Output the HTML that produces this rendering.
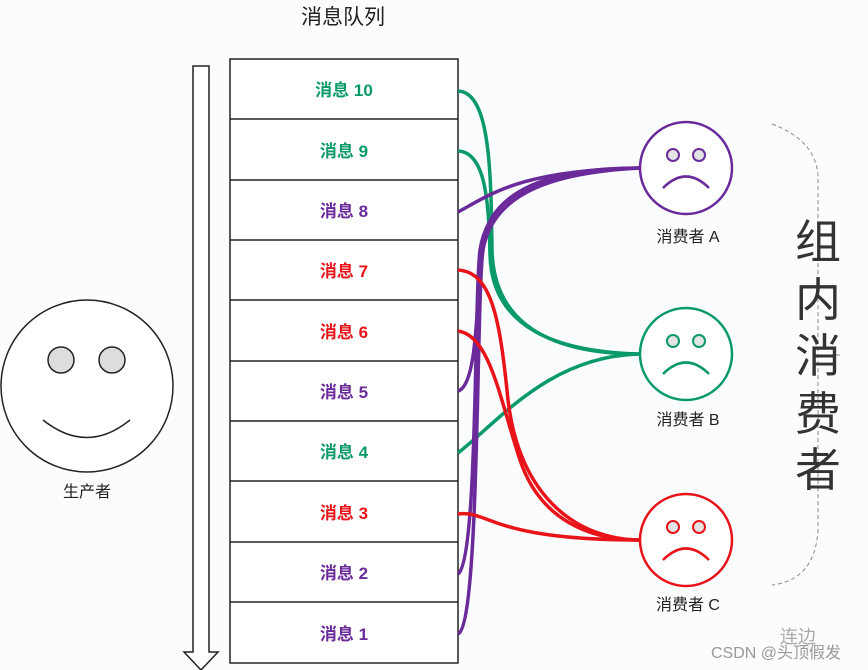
<!DOCTYPE html>
<html><head><meta charset="utf-8"><style>
html,body{margin:0;padding:0;background:#fff;}
svg{display:block;}
text{font-family:"Liberation Sans","Noto Sans CJK SC",sans-serif;}
</style></head><body>
<svg width="868" height="670" viewBox="0 0 868 670" xmlns="http://www.w3.org/2000/svg">
<rect width="868" height="670" fill="#fbfcfe"/>
<text x="343" y="24" font-size="21" text-anchor="middle" fill="#222">消息队列</text>
<path d="M193,66 H209 V652 H218 L201,670 L184,652 H193 Z" fill="#fff" stroke="#222" stroke-width="1.5"/>
<g stroke="#222" stroke-width="1.5" fill="#fff">
<rect x="230" y="59" width="228" height="604"/>
<line x1="230" y1="119" x2="458" y2="119"/>
<line x1="230" y1="180" x2="458" y2="180"/>
<line x1="230" y1="240" x2="458" y2="240"/>
<line x1="230" y1="300" x2="458" y2="300"/>
<line x1="230" y1="361" x2="458" y2="361"/>
<line x1="230" y1="421" x2="458" y2="421"/>
<line x1="230" y1="481" x2="458" y2="481"/>
<line x1="230" y1="542" x2="458" y2="542"/>
<line x1="230" y1="602" x2="458" y2="602"/>
</g>
<g font-size="17" font-weight="bold" text-anchor="middle">
<text x="344" y="96" fill="#0a9a6a">消息 10</text>
<text x="344" y="157" fill="#0a9a6a">消息 9</text>
<text x="344" y="217" fill="#6a2a9a">消息 8</text>
<text x="344" y="277" fill="#e8141a">消息 7</text>
<text x="344" y="338" fill="#e8141a">消息 6</text>
<text x="344" y="398" fill="#6a2a9a">消息 5</text>
<text x="344" y="458" fill="#0a9a6a">消息 4</text>
<text x="344" y="519" fill="#e8141a">消息 3</text>
<text x="344" y="579" fill="#6a2a9a">消息 2</text>
<text x="344" y="640" fill="#6a2a9a">消息 1</text>
</g>
<g fill="none" stroke-width="3.5">
<path d="M458,91 C490,92 491,170 492,250 C494,330 560,354 640,354" stroke="#0a9a6a"/>
<path d="M458,151 C485,152 489,200 490,255 C492,330 560,352 640,354" stroke="#0a9a6a"/>
<path d="M458,453 C500,420 550,356 640,354" stroke="#0a9a6a"/>
<path d="M458,212 C490,195 520,170 640,168" stroke="#6a2a9a"/>
<path d="M458,391 C480,385 476,280 483,240 C495,185 560,168 640,168" stroke="#6a2a9a"/>
<path d="M458,574 C478,560 474,300 480,250 C490,185 560,170 640,168" stroke="#6a2a9a"/>
<path d="M458,634 C480,625 476,300 483,250 C493,190 560,172 640,168" stroke="#6a2a9a"/>
<path d="M458,270 C492,272 500,320 508,400 C520,500 580,540 640,540" stroke="#e8141a"/>
<path d="M458,331 C490,335 500,400 520,460 C540,520 590,540 640,540" stroke="#e8141a"/>
<path d="M458,514 C490,510 490,540 640,540" stroke="#e8141a"/>
</g>
<circle cx="87" cy="386" r="86" fill="#fff" stroke="#222" stroke-width="1.5"/>
<circle cx="61" cy="360" r="13" fill="#ddd" stroke="#222" stroke-width="1.5"/>
<circle cx="112" cy="360" r="13" fill="#ddd" stroke="#222" stroke-width="1.5"/>
<path d="M43,420 Q87,455 130,420" fill="none" stroke="#222" stroke-width="1.5"/>
<text x="87" y="497" font-size="16" text-anchor="middle" fill="#222">生产者</text>
<g fill="#fff" stroke-width="2.5">
<circle cx="686" cy="168" r="46" stroke="#6a2a9a"/>
<circle cx="686" cy="354" r="46" stroke="#0a9a6a"/>
<circle cx="686" cy="540" r="46" stroke="#e8141a"/>
</g>
<g stroke-width="2" fill="#e4e4e4">
<circle cx="673" cy="155" r="6" stroke="#6a2a9a"/><circle cx="699" cy="155" r="6" stroke="#6a2a9a"/>
<circle cx="673" cy="341" r="6" stroke="#0a9a6a"/><circle cx="699" cy="341" r="6" stroke="#0a9a6a"/>
<circle cx="673" cy="527" r="6" stroke="#e8141a"/><circle cx="699" cy="527" r="6" stroke="#e8141a"/>
</g>
<g fill="none" stroke-width="2.5">
<path d="M663,188 Q686,165 709,188" stroke="#6a2a9a"/>
<path d="M663,374 Q686,351 709,374" stroke="#0a9a6a"/>
<path d="M663,560 Q686,537 709,560" stroke="#e8141a"/>
</g>
<g font-size="16" text-anchor="middle" fill="#222">
<text x="688" y="242">消费者 A</text>
<text x="688" y="425">消费者 B</text>
<text x="688" y="610">消费者 C</text>
</g>
<path d="M772,124 Q815,140 818,175 V530 Q815,580 772,585" fill="none" stroke="#888" stroke-width="1" stroke-dasharray="4,3"/>
<line x1="818" y1="355" x2="840" y2="355" stroke="#888" stroke-width="1"/>
<g font-size="46" text-anchor="middle" fill="#333">
<text x="818" y="258">组</text>
<text x="818" y="316">内</text>
<text x="818" y="372">消</text>
<text x="818" y="430">费</text>
<text x="818" y="486">者</text>
</g>
<text x="798" y="643" font-size="18" fill="#aaa" text-anchor="middle">连边</text>
<text x="776" y="658" font-size="16" fill="#999" text-anchor="middle">CSDN @头顶假发</text>
</svg>
</body></html>
